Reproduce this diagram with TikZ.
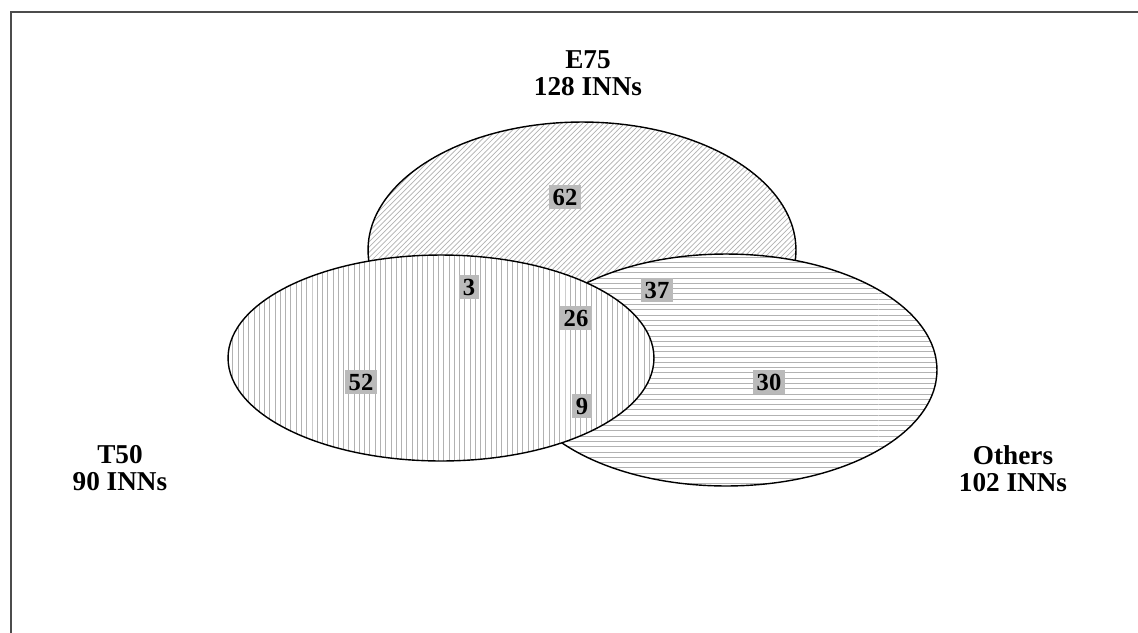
\documentclass[tikz,border=0pt]{standalone}
\usepackage{fontspec}
\setmainfont{Liberation Serif}
\usepackage{tikz}
\usetikzlibrary{shapes.geometric, patterns}
\tikzstyle{setarea} = [ellipse, draw=black, thick, inner sep=0pt, preaction={fill=white}, pattern color=black!30]
\tikzstyle{setlabel} = [align=center, font=\fontsize{15.5}{15.5}\selectfont\bfseries]
\tikzstyle{count} = [fill=black!27, inner sep=2pt, font=\fontsize{14}{15}\selectfont\bfseries]
\tikzstyle{frame} = [line width=1.2pt, black!70]

\begin{document}
\begin{tikzpicture}[x=0.02cm, y=-0.02cm]
  \useasboundingbox (0,0) rectangle (1138,632);
  \draw[frame] (11,640) -- (11,12) -- (1145,12);

  % the three sets
  \node (e75) [setarea, pattern=north east lines, minimum width=8.56cm, minimum height=5.12cm] at (582,250) {};
  \node (others) [setarea, pattern=horizontal lines, minimum width=8.44cm, minimum height=4.64cm] at (726,370) {};
  \node (t50) [setarea, pattern=vertical lines, minimum width=8.52cm, minimum height=4.12cm] at (441,358) {};

  \node (e75lab) [setlabel] at (588,73) {E75\\128 INNs};
  \node (t50lab) [setlabel] at (120,468) {T50\\90 INNs};
  \node (otherslab) [setlabel] at (1013,469) {Others\\102 INNs};

  % counts
  \node (n62) [count] at (565,197) {62};
  \node (n3) [count] at (469,287) {3};
  \node (n26) [count] at (576,318) {26};
  \node (n37) [count] at (657,290) {37};
  \node (n52) [count] at (361,382) {52};
  \node (n9) [count] at (582,406) {9};
  \node (n30) [count] at (769,382) {30};
\end{tikzpicture}
\end{document}
